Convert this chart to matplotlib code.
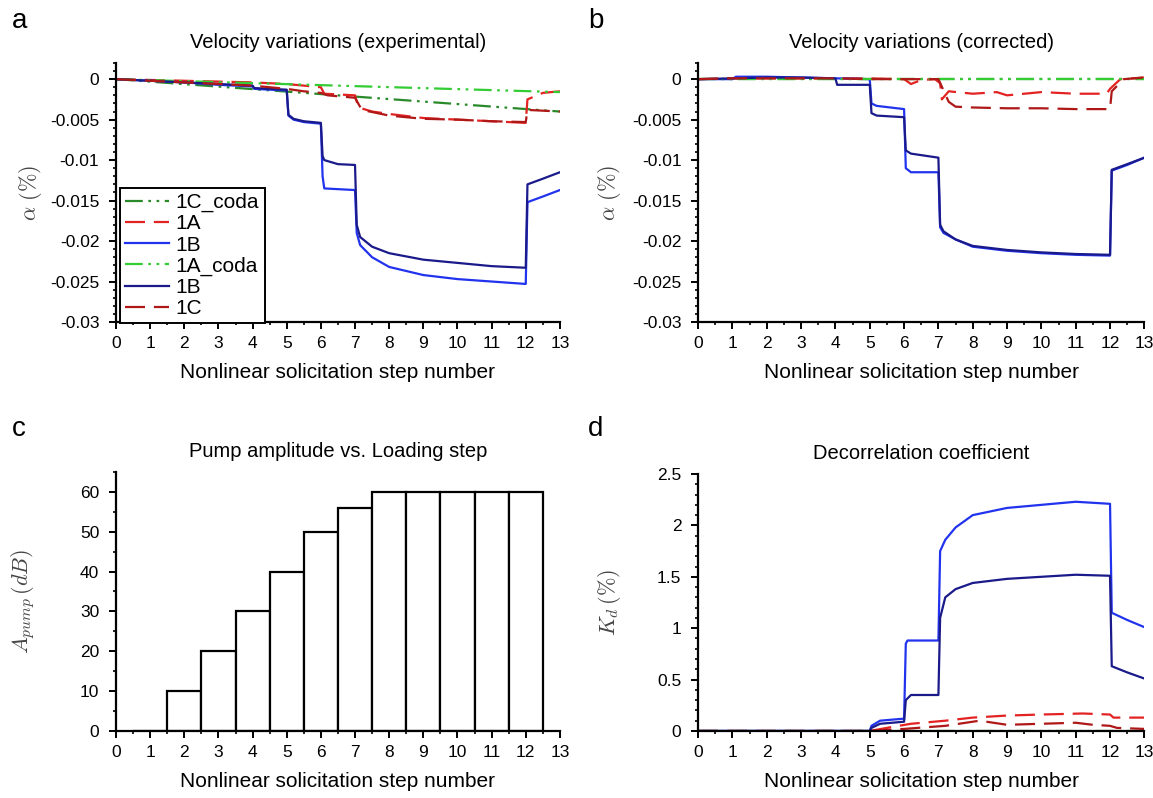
"""Velocity variations, pump amplitude and decorrelation per loading step."""

import matplotlib

matplotlib.use("Agg")

import matplotlib.pyplot as plt
from matplotlib.ticker import MultipleLocator

plt.rcParams["font.family"] = ["Liberation Sans", "DejaVu Sans"]
plt.rcParams["mathtext.fontset"] = "cm"

# ---- panel a: velocity variations (experimental) ----
a_1b_x = [0, 1, 2, 3, 4, 4.05, 5.0, 5.05, 5.2, 5.5, 6.0, 6.05, 6.1, 7.0, 7.05, 7.15,
          7.5, 8, 9, 10, 11, 12, 12.05, 12.5, 13]
a_1b_y = [0, -0.0002, -0.0004, -0.0007, -0.0009, -0.0012, -0.0014, -0.0045, -0.005,
          -0.0053, -0.0055, -0.012, -0.0135, -0.0137, -0.019, -0.0205, -0.022,
          -0.0232, -0.0242, -0.0247, -0.025, -0.0253, -0.0152, -0.0145, -0.0137]
a_1b2_x = [0, 1, 2, 3, 4, 4.05, 5.0, 5.05, 5.2, 5.5, 6.0, 6.05, 6.1, 6.5, 7.0, 7.05,
           7.15, 7.5, 8, 9, 10, 11, 12, 12.05, 12.5, 13]
a_1b2_y = [0, -0.0002, -0.0004, -0.0006, -0.0008, -0.0011, -0.0013, -0.0044, -0.0049,
           -0.0052, -0.0054, -0.0095, -0.01, -0.0105, -0.0106, -0.018, -0.0195,
           -0.0207, -0.0215, -0.0223, -0.0227, -0.0231, -0.0233, -0.013, -0.0123,
           -0.0115]
a_1a_coda_x = [0, 13]
a_1a_coda_y = [0, -0.0016]
a_1c_coda_x = [0, 13]
a_1c_coda_y = [0, -0.004]
a_1a_x = [0, 1, 2, 3, 4, 5, 5.5, 6.0, 6.1, 7.0, 7.1, 7.5, 8, 9, 10, 11, 12, 12.05,
          12.5, 13]
a_1a_y = [0, -0.0001, -0.0002, -0.0003, -0.0004, -0.0006, -0.0008, -0.001, -0.0018,
          -0.002, -0.0035, -0.004, -0.0043, -0.0048, -0.005, -0.0052, -0.0054,
          -0.0025, -0.0017, -0.0015]
a_1c_x = [0, 1, 2, 3, 4, 5, 5.5, 6.0, 6.2, 7.0, 7.2, 8, 9, 10, 11, 12, 12.05, 13]
a_1c_y = [0, -0.0002, -0.0004, -0.0006, -0.0008, -0.0012, -0.0015, -0.0017, -0.002,
          -0.0023, -0.0038, -0.0045, -0.0049, -0.005, -0.0052, -0.0053, -0.0038,
          -0.004]

# ---- panel b: velocity variations (corrected) ----
b_1b_x = [0, 1, 1.1, 2, 3, 4, 5.0, 5.05, 5.2, 6.0, 6.05, 6.2, 7.0, 7.05, 7.15, 7.5,
          8, 9, 10, 11, 12, 12.05, 12.5, 13]
b_1b_y = [0, 0, 0.0003, 0.0003, 0.0002, 0.0001, 0, -0.003, -0.0033, -0.0037, -0.011,
          -0.0115, -0.0115, -0.0183, -0.019, -0.0198, -0.0207, -0.0212, -0.0215,
          -0.0217, -0.0218, -0.0113, -0.0106, -0.0097]
b_1b2_x = [0, 1, 2, 3, 4, 4.05, 5.0, 5.05, 5.2, 6.0, 6.05, 6.2, 7.0, 7.05, 7.15, 7.5,
           8, 9, 10, 11, 12, 12.05, 12.5, 13]
b_1b2_y = [0, 0.0001, 0.0002, 0.0002, 0.0001, -0.0007, -0.0007, -0.0042, -0.0045,
           -0.0047, -0.0088, -0.0092, -0.0097, -0.018, -0.0188, -0.0198, -0.0206,
           -0.0211, -0.0214, -0.0216, -0.0217, -0.0112, -0.0105, -0.0097]
b_coda_x = [0, 13]
b_coda_y = [0, 0]
b_1a_x = [0, 1, 2, 3, 4, 5, 6.0, 6.2, 6.5, 6.9, 7.05, 7.1, 7.3, 8, 8.7, 9, 10, 11,
          11.9, 12.0, 12.3, 13]
b_1a_y = [0, 0.0001, 0.0001, 0.0001, 0.0001, 0.0001, 0, -0.0006, -0.0001, 0,
          -0.0005, -0.0025, -0.0015, -0.0018, -0.0016, -0.002, -0.0016, -0.0018,
          -0.0018, -0.0012, 0, 0.0002]
b_1c_x = [0, 1, 2, 3, 4, 5, 6, 7.0, 7.3, 7.5, 8, 9, 10, 11, 12.0, 12.05, 12.4, 13]
b_1c_y = [0, 0.0001, 0.0001, 0.0001, 0.0001, 0, 0, 0, -0.0028, -0.0034, -0.0035,
          -0.0036, -0.0036, -0.0037, -0.0037, -0.0015, 0, 0.0002]

# ---- panel c: pump amplitude ----
steps = [1, 2, 3, 4, 5, 6, 7, 8, 9, 10, 11, 12]
pump_db = [0, 10, 20, 30, 40, 50, 56, 60, 60, 60, 60, 60]

# ---- panel d: decorrelation coefficient ----
d_1b_x = [0, 5.0, 5.05, 5.3, 6.0, 6.05, 6.1, 7.0, 7.05, 7.2, 7.5, 8, 9, 10, 11, 12,
          12.05, 12.5, 13]
d_1b_y = [0, 0, 0.05, 0.1, 0.12, 0.85, 0.88, 0.88, 1.75, 1.86, 1.98, 2.1, 2.17, 2.2,
          2.23, 2.21, 1.15, 1.08, 1.01]
d_1b2_x = [0, 5.0, 5.05, 5.3, 6.0, 6.05, 6.2, 7.0, 7.05, 7.2, 7.5, 8, 9, 10, 11, 12,
           12.05, 12.5, 13]
d_1b2_y = [0, 0, 0.03, 0.07, 0.09, 0.3, 0.35, 0.35, 1.1, 1.3, 1.38, 1.44, 1.48, 1.5,
           1.52, 1.51, 0.63, 0.57, 0.51]
d_1a_x = [0, 5, 5.5, 6.2, 7.2, 8, 9, 10, 11.2, 12, 12.1, 13]
d_1a_y = [0, 0, 0.03, 0.07, 0.1, 0.13, 0.15, 0.16, 0.17, 0.16, 0.13, 0.13]
d_1c_x = [0, 5, 6, 7.2, 8.2, 9, 10, 11, 11.5, 12, 12.2, 13]
d_1c_y = [0, 0, 0.02, 0.05, 0.1, 0.06, 0.07, 0.08, 0.06, 0.05, 0.03, 0.02]
d_coda_x = [0, 13]
d_coda_y = [0, 0]

LIGHT_BLUE = "#2233ee"
NAVY = "#1a1a8a"
RED = "#e32222"
DARK_RED = "#b01818"
LIGHT_GREEN = "#33cc33"
DARK_GREEN = "#2a8a2a"
DASH = (0, (9, 4))
DDOT = (0, (8, 2.5, 1.2, 2.5, 1.2, 2.5))

XLABEL = "Nonlinear solicitation step number"


def _style(ax, ylim, ymajor, yminor, ylabel, title, label_x):
    ax.set_xlim(0, 13)
    ax.set_ylim(*ylim)
    ax.spines["top"].set_visible(False)
    ax.spines["right"].set_visible(False)
    ax.spines["left"].set_linewidth(1.6)
    ax.spines["bottom"].set_linewidth(1.6)
    ax.xaxis.set_major_locator(MultipleLocator(1))
    ax.xaxis.set_minor_locator(MultipleLocator(0.5))
    ax.yaxis.set_major_locator(MultipleLocator(ymajor))
    ax.yaxis.set_minor_locator(MultipleLocator(yminor))
    ax.tick_params(which="major", direction="out", length=5, width=1.4,
                   labelsize=12.5)
    ax.tick_params(axis="x", which="major", pad=5)
    ax.tick_params(axis="y", which="major", pad=7)
    ax.tick_params(which="minor", direction="out", length=2.5, width=1.2)
    ax.set_xlabel(XLABEL, fontsize=15, labelpad=9)
    ax.set_ylabel(ylabel, fontsize=16, color="#444444")
    ax.yaxis.set_label_coords(label_x, 0.5)
    ax.set_title(title, fontsize=14.5, pad=11)


def _ytick_fmt(v):
    if abs(v) < 1e-12:
        return "0"
    return f"{v:g}"


fig = plt.figure(figsize=(11.53, 7.98), dpi=100)
ax_a = fig.add_axes([0.1006, 0.5965, 0.385, 0.3246])
ax_b = fig.add_axes([0.6055, 0.5965, 0.387, 0.3246])
ax_c = fig.add_axes([0.1006, 0.0840, 0.385, 0.3246])
ax_d = fig.add_axes([0.6055, 0.0840, 0.387, 0.3220])

# a
ax_a.plot(a_1c_coda_x, a_1c_coda_y, color=DARK_GREEN, ls=DDOT, lw=1.6, label="1C_coda")
ax_a.plot(a_1a_x, a_1a_y, color=RED, ls=DASH, lw=1.6, label="1A")
ax_a.plot(a_1b_x, a_1b_y, color=LIGHT_BLUE, lw=1.6, label="1B")
ax_a.plot(a_1a_coda_x, a_1a_coda_y, color=LIGHT_GREEN, ls=DDOT, lw=1.6, label="1A_coda")
ax_a.plot(a_1b2_x, a_1b2_y, color=NAVY, lw=1.6, label="1B")
ax_a.plot(a_1c_x, a_1c_y, color=DARK_RED, ls=DASH, lw=1.6, label="1C")
_style(ax_a, (-0.03, 0.002), 0.005, 0.001, r"$\alpha\ (\%)$",
       "Velocity variations (experimental)", -0.162)
leg = ax_a.legend(loc="lower left", bbox_to_anchor=(0.008, -0.005), fontsize=15,
                  frameon=True, fancybox=False, edgecolor="black", framealpha=1,
                  handlelength=2.1, handletextpad=0.35, borderpad=0.25,
                  labelspacing=0.1, borderaxespad=0.0)
leg.get_frame().set_linewidth(1.4)

# b
ax_b.plot(b_coda_x, b_coda_y, color=DARK_GREEN, ls=DDOT, lw=1.6)
ax_b.plot(b_1a_x, b_1a_y, color=RED, ls=DASH, lw=1.6)
ax_b.plot(b_1b_x, b_1b_y, color=LIGHT_BLUE, lw=1.6)
ax_b.plot(b_coda_x, b_coda_y, color=LIGHT_GREEN, ls=DDOT, lw=1.6)
ax_b.plot(b_1b2_x, b_1b2_y, color=NAVY, lw=1.6)
ax_b.plot(b_1c_x, b_1c_y, color=DARK_RED, ls=DASH, lw=1.6)
_style(ax_b, (-0.03, 0.002), 0.005, 0.001, r"$\alpha\ (\%)$",
       "Velocity variations (corrected)", -0.169)

for ax in (ax_a, ax_b):
    ax.set_yticks([-0.03, -0.025, -0.02, -0.015, -0.01, -0.005, 0])
    ax.set_yticklabels([_ytick_fmt(v) for v in ax.get_yticks()])

# c
ax_c.bar(steps, pump_db, width=1.0, color="white", edgecolor="black", linewidth=1.6)
_style(ax_c, (0, 65), 10, 5, r"$A_{pump}\,(dB)$", "Pump amplitude vs. Loading step",
       -0.178)

# d
ax_d.plot(d_coda_x, d_coda_y, color=DARK_GREEN, ls=DDOT, lw=1.6)
ax_d.plot(d_coda_x, d_coda_y, color=LIGHT_GREEN, lw=2.2)
ax_d.plot(d_1a_x, d_1a_y, color=RED, ls=DASH, lw=1.6)
ax_d.plot(d_1c_x, d_1c_y, color=DARK_RED, ls=DASH, lw=1.6)
ax_d.plot(d_1b_x, d_1b_y, color=LIGHT_BLUE, lw=1.6)
ax_d.plot(d_1b2_x, d_1b2_y, color=NAVY, lw=1.6)
_style(ax_d, (0, 2.5), 0.5, 0.1, r"$K_d\,(\%)$", "Decorrelation coefficient", -0.169)
ax_d.set_yticks([0, 0.5, 1, 1.5, 2, 2.5])
ax_d.set_yticklabels(["0", "0.5", "1", "1.5", "2", "2.5"])

for lbl, x, y in (("a", 0.010, 0.974), ("b", 0.510, 0.974),
                  ("c", 0.010, 0.462), ("d", 0.510, 0.462)):
    fig.text(x, y, lbl, fontsize=20, va="center", ha="left")

fig.savefig("out.png", dpi=100)
plt.close(fig)
